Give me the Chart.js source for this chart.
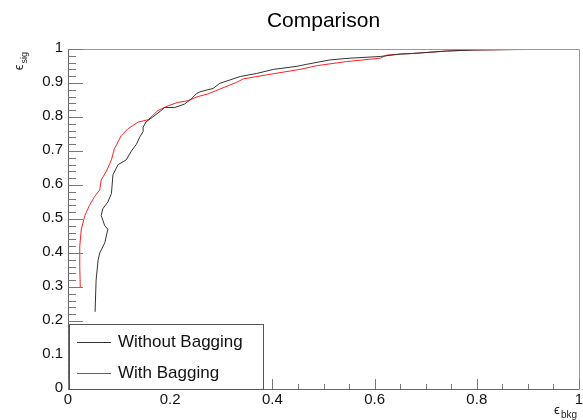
<!DOCTYPE html>
<html>
<head>
<meta charset="utf-8">
<script src="https://cdn.jsdelivr.net/npm/chart.js@4/dist/chart.umd.min.js"></script>
<style>
  html, body { margin: 0; padding: 0; background: #fff; }
  #wrap { width: 583px; height: 420px; }
</style>
</head>
<body>
<div id="wrap"><canvas id="roc"></canvas></div>
<script>
// ROC curves: background efficiency vs signal efficiency
const bkgWithout = [0.053, 0.055, 0.059, 0.062, 0.072, 0.078, 0.072, 0.065, 0.068, 0.078, 0.085, 0.088, 0.098, 0.114, 0.124, 0.134, 0.140, 0.147, 0.147, 0.153, 0.166, 0.183, 0.189, 0.209, 0.228, 0.241, 0.251, 0.258, 0.284, 0.297, 0.317, 0.337, 0.369, 0.402, 0.448, 0.467, 0.513, 0.552, 0.611, 0.650, 0.676, 0.741, 0.793, 0.850, 0.950];
const sigWithout = [0.227, 0.320, 0.380, 0.400, 0.430, 0.470, 0.480, 0.510, 0.530, 0.550, 0.575, 0.630, 0.660, 0.674, 0.700, 0.720, 0.740, 0.757, 0.770, 0.786, 0.800, 0.820, 0.828, 0.828, 0.838, 0.853, 0.868, 0.874, 0.884, 0.899, 0.909, 0.919, 0.928, 0.940, 0.949, 0.955, 0.968, 0.973, 0.978, 0.985, 0.987, 0.994, 0.997, 0.998, 0.999];

const bkgWith = [0.024, 0.023, 0.023, 0.026, 0.033, 0.042, 0.052, 0.062, 0.065, 0.075, 0.085, 0.091, 0.095, 0.104, 0.117, 0.137, 0.157, 0.176, 0.196, 0.215, 0.235, 0.254, 0.274, 0.297, 0.330, 0.343, 0.389, 0.454, 0.487, 0.545, 0.611, 0.624, 0.650, 0.676, 0.741, 0.793, 0.900, 1.000];
const sigWith = [0.300, 0.360, 0.420, 0.470, 0.510, 0.540, 0.566, 0.585, 0.615, 0.640, 0.674, 0.708, 0.718, 0.745, 0.765, 0.785, 0.792, 0.819, 0.833, 0.843, 0.848, 0.860, 0.868, 0.882, 0.902, 0.912, 0.924, 0.940, 0.951, 0.963, 0.973, 0.982, 0.985, 0.987, 0.994, 0.997, 0.999, 1.000];

const seriesNames = ['Without Bagging', 'With Bagging'];
const seriesColors = ['#333333', '#ff2020'];
const xMajor = [0, 0.2, 0.4, 0.6, 0.8, 1];
const yMajor = [0, 0.1, 0.2, 0.3, 0.4, 0.5, 0.6, 0.7, 0.8, 0.9, 1];
const chartTitle = 'Comparison';

const FONT = '"Liberation Sans", Arial, Helvetica, sans-serif';
const toPoints = (xs, ys) => xs.map((x, i) => ({ x, y: ys[i] }));

// ROOT-like frame: ticks inside the frame, labels, titles and a boxed legend
const rootFrame = {
    id: 'rootFrame',
    afterDraw(chart) {
        const { ctx, chartArea: a, scales: { x, y } } = chart;
        ctx.save();

        // frame
        ctx.lineWidth = 1;
        ctx.strokeStyle = '#999';
        ctx.beginPath();
        ctx.moveTo(a.left, a.top + 0.5);
        ctx.lineTo(a.right + 0.5, a.top + 0.5);
        ctx.lineTo(a.right + 0.5, a.bottom);
        ctx.stroke();
        ctx.strokeStyle = '#666';
        ctx.beginPath();
        ctx.moveTo(a.left + 0.5, a.top);
        ctx.lineTo(a.left + 0.5, a.bottom + 0.5);
        ctx.lineTo(a.right + 0.5, a.bottom + 0.5);
        ctx.stroke();

        // y ticks: majors every 0.1, minors every 0.02
        ctx.strokeStyle = '#777';
        ctx.beginPath();
        for (let k = 0; k <= 50; k++) {
            const py = Math.round(y.getPixelForValue(k / 50)) + 0.5;
            const len = k % 5 === 0 ? 15 : 8;
            ctx.moveTo(a.left, py);
            ctx.lineTo(a.left + len, py);
        }
        // x ticks: majors every 0.2, minors every 0.05
        for (let k = 0; k <= 20; k++) {
            const px = Math.round(x.getPixelForValue(k / 20)) + 0.5;
            const len = k % 4 === 0 ? 10 : 5;
            ctx.moveTo(px, a.bottom);
            ctx.lineTo(px, a.bottom - len);
        }
        ctx.stroke();

        // tick labels
        ctx.fillStyle = '#111';
        ctx.font = '15px ' + FONT;
        ctx.textAlign = 'right';
        ctx.textBaseline = 'middle';
        yMajor.forEach(v => ctx.fillText(String(v), a.left - 5, y.getPixelForValue(v) - 1));
        ctx.textAlign = 'center';
        ctx.textBaseline = 'top';
        xMajor.forEach(v => ctx.fillText(String(v), x.getPixelForValue(v), a.bottom + 3));

        // title
        ctx.fillStyle = '#000';
        ctx.font = '21px ' + FONT;
        ctx.textAlign = 'center';
        ctx.textBaseline = 'alphabetic';
        ctx.fillText(chartTitle, (a.left + a.right) / 2, 27);

        // y axis title, rotated
        ctx.save();
        ctx.translate(23, 52);
        ctx.rotate(-Math.PI / 2);
        ctx.fillStyle = '#222';
        ctx.textAlign = 'right';
        ctx.font = '9px ' + FONT;
        ctx.fillText('sig', 0, 4);
        const sw = ctx.measureText('sig').width;
        ctx.font = '13px ' + FONT;
        ctx.fillText('\u03f5', -sw - 1, 0);
        ctx.restore();

        // x axis title
        ctx.fillStyle = '#222';
        ctx.textAlign = 'left';
        ctx.font = '13px ' + FONT;
        ctx.fillText('\u03f5', 554, 414);
        ctx.font = '10px ' + FONT;
        ctx.fillText('bkg', 561, 418);

        // legend box
        const lx = 69, ly = 324, lw = 194, lh = 65;
        ctx.fillStyle = '#fff';
        ctx.fillRect(lx, ly, lw, lh);
        ctx.strokeStyle = '#555';
        ctx.strokeRect(lx + 0.5, ly + 0.5, lw, lh);
        ctx.font = '17px ' + FONT;
        ctx.textBaseline = 'middle';
        seriesNames.forEach((name, i) => {
            const cy = ly + 18 + i * 31;
            ctx.strokeStyle = seriesColors[i];
            ctx.beginPath();
            ctx.moveTo(lx + 8, cy + 0.5);
            ctx.lineTo(lx + 42, cy + 0.5);
            ctx.stroke();
            ctx.fillStyle = '#111';
            ctx.fillText(name, lx + 49, cy);
        });

        ctx.restore();
    }
};

new Chart(document.getElementById('roc'), {
    type: 'scatter',
    data: {
        datasets: [
            {
                label: seriesNames[0],
                data: toPoints(bkgWithout, sigWithout),
                showLine: true,
                borderColor: seriesColors[0],
                borderWidth: 1,
                pointRadius: 0,
                tension: 0,
            },
            {
                label: seriesNames[1],
                data: toPoints(bkgWith, sigWith),
                showLine: true,
                borderColor: seriesColors[1],
                borderWidth: 1,
                pointRadius: 0,
                tension: 0,
            },
        ],
    },
    options: {
        responsive: true,
        maintainAspectRatio: false,
        animation: false,
        layout: { padding: { left: 68, right: 4, top: 49, bottom: 31 } },
        scales: {
            x: { type: 'linear', min: 0, max: 1, display: false },
            y: { type: 'linear', min: 0, max: 1, display: false },
        },
        plugins: {
            legend: { display: false },
            title: { display: false },
            tooltip: { enabled: false },
        },
    },
    plugins: [rootFrame],
});
</script>
</body>
</html>
